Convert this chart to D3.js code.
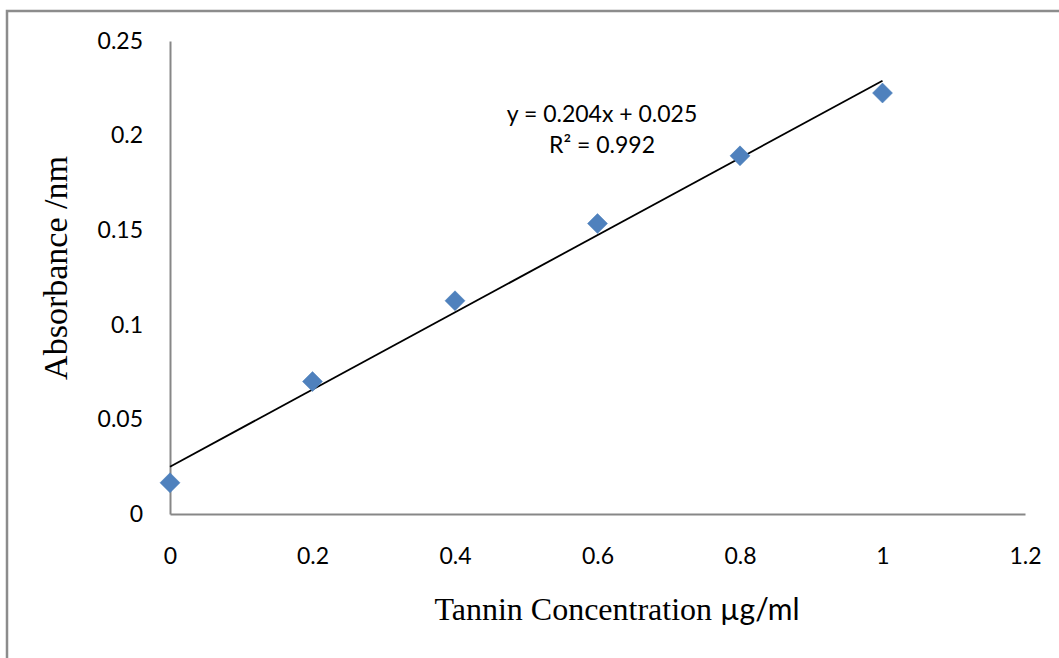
<!DOCTYPE html>
<html>
<head>
  <meta charset="utf-8">
  <script src="https://d3js.org/d3.v7.min.js"></script>
  <style type="text/css">
    body { margin: 0; background: #fff; }
    svg { display: block; }
    .tick text { font-family: Lato, "Open Sans", sans-serif; font-size: 23px; fill: #000; }
  </style>
</head>
<body>
<script type="text/javascript">
  // data
  var concentration = [0, 0.2, 0.4, 0.6, 0.8, 1.0];
  var absorbance = [0.0165, 0.0700, 0.1127, 0.1535, 0.1893, 0.2225];
  var xTicks = [0, 0.2, 0.4, 0.6, 0.8, 1, 1.2];
  var yTicks = [0, 0.05, 0.1, 0.15, 0.2, 0.25];
  var trend = { slope: 0.204, intercept: 0.025 };
  var eqLines = ["y = 0.204x + 0.025", "R\u00b2 = 0.992"];

  var W = 1059, H = 658;
  var svg = d3.select("body").append("svg")
    .attr("width", W)
    .attr("height", H);

  // outer chart frame
  svg.append("rect")
    .attr("x", 7).attr("y", 11)
    .attr("width", W + 20).attr("height", H + 20)
    .attr("fill", "#fff")
    .attr("stroke", "#8c8c8c")
    .attr("stroke-width", 2.5);

  var x = d3.scaleLinear().domain([0, 1.2]).range([170, 1025]);
  var y = d3.scaleLinear().domain([0, 0.25]).range([514, 41]);

  var fmt = function(d) { return String(+d.toFixed(2)); };

  // axes
  var gx = svg.append("g")
    .attr("transform", "translate(0," + y(0) + ")")
    .call(d3.axisBottom(x).tickValues(xTicks).tickFormat(fmt).tickSize(0).tickPadding(34));
  gx.select(".domain").attr("stroke", "#878787").attr("stroke-width", 2);

  var gy = svg.append("g")
    .attr("transform", "translate(" + x(0) + ",0)")
    .call(d3.axisLeft(y).tickValues(yTicks).tickFormat(fmt).tickSize(0).tickPadding(27));
  gy.select(".domain").attr("stroke", "#878787").attr("stroke-width", 2);

  // linear trendline across the data range
  var x0 = d3.min(concentration), x1 = d3.max(concentration);
  svg.append("line")
    .attr("x1", x(x0)).attr("y1", y(trend.slope * x0 + trend.intercept))
    .attr("x2", x(x1)).attr("y2", y(trend.slope * x1 + trend.intercept))
    .attr("stroke", "#000")
    .attr("stroke-width", 1.8);

  // diamond markers
  var pts = concentration.map(function(c, i) { return [c, absorbance[i]]; });
  svg.append("g").selectAll("path")
    .data(pts)
    .enter().append("path")
    .attr("transform", function(d) { return "translate(" + x(d[0]) + "," + y(d[1]) + ")"; })
    .attr("d", "M0,-10L10,0L0,10L-10,0Z")
    .attr("fill", "#4f81bd")
    .attr("stroke", "#4a7ebb")
    .attr("stroke-width", 0.5);

  // equation label
  svg.append("g").selectAll("text")
    .data(eqLines)
    .enter().append("text")
    .attr("x", 602)
    .attr("y", function(d, i) { return 122 + i * 31; })
    .attr("text-anchor", "middle")
    .attr("font-family", "Lato, 'Open Sans', sans-serif")
    .attr("font-size", 23)
    .attr("fill", "#000")
    .text(function(d) { return d; });

  // axis titles
  var xt = svg.append("text")
    .attr("x", 617).attr("y", 620)
    .attr("text-anchor", "middle")
    .attr("font-family", "'Liberation Serif', 'Times New Roman', serif")
    .attr("font-size", 32)
    .attr("fill", "#000");
  xt.append("tspan").text("Tannin Concentration ");
  xt.append("tspan").attr("font-family", "Lato, sans-serif").attr("font-size", 30).text("\u00b5g/ml");

  svg.append("text")
    .attr("transform", "translate(67,268) rotate(-90)")
    .attr("text-anchor", "middle")
    .attr("font-family", "'Liberation Serif', 'Times New Roman', serif")
    .attr("font-size", 34)
    .attr("fill", "#000")
    .text("Absorbance /nm");
</script>
</body>
</html>
